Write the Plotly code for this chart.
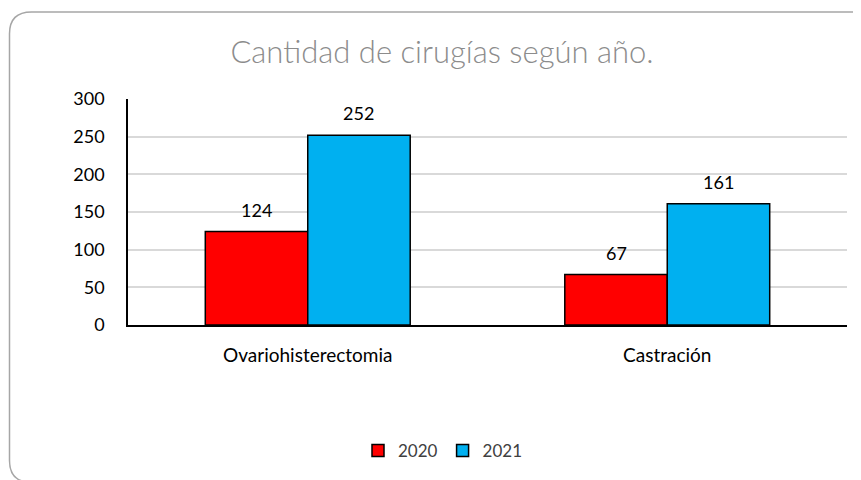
import plotly.graph_objects as go

categories = ["Ovariohisterectomia", "Castración"]
years = ["2020", "2021"]
values_2020 = [124, 67]
values_2021 = [252, 161]
colors = ["#FF0000", "#00B0F0"]
y_ticks = [0, 50, 100, 150, 200, 250, 300]
title_text = "Cantidad de cirugías según año."

OFF = 8  # page body margin
W, H = 861 - OFF, 480 - OFF
# plot area in screen pixels
SL, SR, ST, SB = 128, 847, 99, 326
L, T = SL - OFF, ST - OFF
R, B = W - (SR - OFF), H - (SB - OFF)
pw, ph = W - L - R, H - T - B

FONT = "Lato"

fig = go.Figure()
for name, vals, col in zip(years, [values_2020, values_2021], colors):
    fig.add_trace(go.Bar(
        x=categories, y=vals, name=name,
        marker=dict(color=col, line=dict(color="black", width=1.5)),
    ))

bar_px = pw / len(categories) * (1 - 0.43) / 2
for i, vals in enumerate([values_2020, values_2021]):
    shift = (i - 0.5) * bar_px
    for c, v in zip(categories, vals):
        fig.add_annotation(x=c, y=v, text=str(v), showarrow=False,
                           xshift=shift, yshift=9, yanchor="bottom",
                           font=dict(family=FONT, size=18, color="black"))

def px_x(x):  # screen px -> paper
    return (x - SL) / pw

def px_y(y):
    return (SB - y) / ph

x0, y0, x1, y1, r = 9.5, 11.5, 880, 484, 22
pts = [("M", [(x0 + r, y0)]), ("L", [(x1 - r, y0)]), ("Q", [(x1, y0), (x1, y0 + r)]),
       ("L", [(x1, y1 - r)]), ("Q", [(x1, y1), (x1 - r, y1)]), ("L", [(x0 + r, y1)]),
       ("Q", [(x0, y1), (x0, y1 - r)]), ("L", [(x0, y0 + r)]), ("Q", [(x0, y0), (x0 + r, y0)])]
path = " ".join(cmd + " " + " ".join(f"{px_x(a):.5f},{px_y(b):.5f}" for a, b in p)
                for cmd, p in pts) + " Z"
fig.add_shape(type="path", path=path, xref="paper", yref="paper",
              line=dict(color="#A6A6A6", width=1.5), layer="below")

fig.update_layout(
    width=W, height=H,
    margin=dict(l=L, r=R, t=T, b=B),
    paper_bgcolor="white", plot_bgcolor="white",
    barmode="group", bargap=0.43, bargroupgap=0,
    title=dict(text=title_text, x=px_x(442), xanchor="center", xref="paper",
               y=1 - (52 - OFF) / H, yanchor="middle",
               font=dict(family=FONT, size=31, weight=300, color="#8C8C8C")),
    showlegend=True,
    legend=dict(orientation="h", x=px_x(443), xanchor="center",
                y=px_y(451), yanchor="middle",
                font=dict(family=FONT, size=17, color="#404040"),
                itemwidth=30, traceorder="normal"),
    font=dict(family=FONT),
)
fig.update_yaxes(range=[0, 300], tickvals=y_ticks, showgrid=True,
                 gridcolor="#D9D9D9", gridwidth=1.5, showline=True,
                 linecolor="black", linewidth=1.5, zeroline=False,
                 ticklabelstandoff=18,
                 tickfont=dict(family=FONT, size=18, color="black"))
fig.update_xaxes(showline=True, linecolor="black", linewidth=2,
                 ticklabelstandoff=12,
                 tickfont=dict(family=FONT, size=19, color="black"))

fig.write_html("out.html")
